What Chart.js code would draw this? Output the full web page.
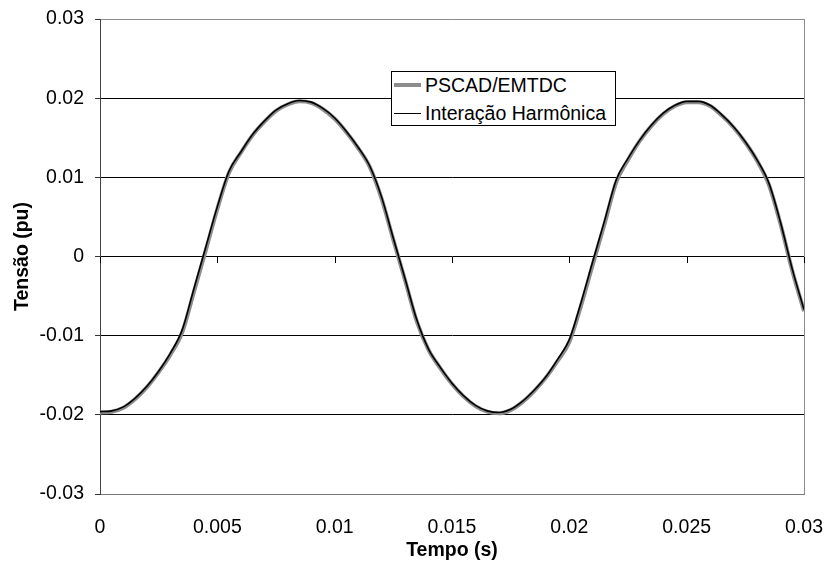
<!DOCTYPE html>
<html>
<head>
    <title>Tensão (pu)</title>
    <script src="https://cdn.jsdelivr.net/npm/chart.js@4.4.5/dist/chart.umd.min.js"></script>
    <style>
        body { margin: 0; background: #fff; }
        #wrap { position: relative; width: 827px; height: 567px; }
        #legend {
            position: absolute; left: 391px; top: 71px; width: 223px; height: 53px;
            border: 1px solid #000; background: #fff;
            font-family: "Liberation Sans", Arial, sans-serif; font-size: 19.5px; color: #000;
        }
        .row { position: absolute; left: 0; height: 26px; line-height: 26px; white-space: nowrap; }
        .row span.sw { position: absolute; left: 2px; width: 27px; }
        .row span.tx { position: absolute; left: 33px; }
    </style>
</head>
<body>
<div id="wrap">
    <canvas id="waveChart" width="827" height="567"></canvas>
    <div id="legend">
        <div class="row" style="top:0px"><span class="sw" style="top:11px;height:4px;background:#8c8c8c"></span><span class="tx">PSCAD/EMTDC</span></div>
        <div class="row" style="top:28px"><span class="sw" style="top:13px;height:1px;background:#000"></span><span class="tx">Interação Harmônica</span></div>
    </div>
</div>

<script>
    // tempo (s)
    const tempo = [
        0, 0.0005, 0.001, 0.0015, 0.002, 0.0025, 0.003, 0.0035, 0.004, 0.0045,
        0.005, 0.0055, 0.006, 0.0065, 0.007, 0.0075, 0.008, 0.0085, 0.009, 0.0095,
        0.01, 0.0105, 0.011, 0.0115, 0.012, 0.0125, 0.013, 0.0135, 0.014, 0.0145,
        0.015, 0.0155, 0.016, 0.0165, 0.017, 0.0175, 0.018, 0.0185, 0.019, 0.0195,
        0.02, 0.0205, 0.021, 0.0215, 0.022, 0.0225, 0.023, 0.0235, 0.024, 0.0245,
        0.025, 0.0255, 0.026, 0.0265, 0.027, 0.0275, 0.028, 0.0285, 0.029, 0.0295,
        0.03
    ];

    // Interação Harmônica (pu)
    const interacao = [
        -0.0196, -0.0195, -0.0190, -0.0179, -0.0164, -0.0145, -0.0122, -0.0093, -0.0041, 0.0011,
        0.0063, 0.0108, 0.0132, 0.0154, 0.0171, 0.0185, 0.0193, 0.0197, 0.0195, 0.0187,
        0.0175, 0.0158, 0.0138, 0.0114, 0.0075, 0.0023, -0.0028, -0.0080, -0.0117, -0.0140,
        -0.0160, -0.0176, -0.0188, -0.0195, -0.0197, -0.0193, -0.0183, -0.0169, -0.0152, -0.0130,
        -0.0105, -0.0058, -0.0006, 0.0045, 0.0097, 0.0124, 0.0147, 0.0166, 0.0181, 0.0191,
        0.0196, 0.0196, 0.0191, 0.0179, 0.0164, 0.0145, 0.0122, 0.0093, 0.0043, -0.0016,
        -0.0067
    ];

    // PSCAD/EMTDC (pu)
    const pscad = [
        -0.0197, -0.0196, -0.0191, -0.0180, -0.0165, -0.0146, -0.0124, -0.0096, -0.0045, 0.0007,
        0.0060, 0.0106, 0.0131, 0.0153, 0.0170, 0.0184, 0.0192, 0.0196, 0.0194, 0.0186,
        0.0174, 0.0157, 0.0137, 0.0113, 0.0073, 0.0021, -0.0030, -0.0082, -0.0118, -0.0141,
        -0.0161, -0.0177, -0.0189, -0.0196, -0.0198, -0.0194, -0.0184, -0.0170, -0.0153, -0.0132,
        -0.0108, -0.0062, -0.0010, 0.0041, 0.0094, 0.0122, 0.0146, 0.0165, 0.0180, 0.0190,
        0.0195, 0.0195, 0.0190, 0.0178, 0.0163, 0.0144, 0.0121, 0.0091, 0.0041, -0.0018,
        -0.0069
    ];

    const xTicks = [0, 0.005, 0.01, 0.015, 0.02, 0.025, 0.03];
    const yTicks = [-0.03, -0.02, -0.01, 0, 0.01, 0.02, 0.03];

    const FONT = '"Liberation Sans", Arial, sans-serif';

    function fmt(v) {
        return String(Number(v.toFixed(4)));
    }

    // small tick marks on the zero line and the grey frame on the right
    const framePlugin = {
        id: 'frame',
        beforeDatasetsDraw(chart) {
            const { ctx, chartArea, scales } = chart;
            ctx.save();
            ctx.strokeStyle = '#8a8a8a';
            ctx.lineWidth = 1;
            ctx.beginPath();
            ctx.moveTo(Math.round(chartArea.right) + 0.5, chartArea.top);
            ctx.lineTo(Math.round(chartArea.right) + 0.5, chartArea.bottom);
            ctx.stroke();

            const y0 = Math.round(scales.y.getPixelForValue(0));
            ctx.strokeStyle = '#000';
            ctx.beginPath();
            xTicks.forEach(v => {
                const x = Math.round(scales.x.getPixelForValue(v)) + 0.5;
                ctx.moveTo(x, y0);
                ctx.lineTo(x, y0 + 6);
            });
            ctx.stroke();
            ctx.restore();
        }
    };

    new Chart(document.getElementById('waveChart'), {
        type: 'line',
        data: {
            datasets: [
                {
                    label: 'Interação Harmônica',
                    data: tempo.map((t, i) => ({ x: t, y: interacao[i] })),
                    borderColor: '#000',
                    borderWidth: 1.6,
                    pointRadius: 0,
                    cubicInterpolationMode: 'monotone',
                    order: 1
                },
                {
                    label: 'PSCAD/EMTDC',
                    data: tempo.map((t, i) => ({ x: t, y: pscad[i] })),
                    borderColor: '#8c8c8c',
                    borderWidth: 4,
                    pointRadius: 0,
                    cubicInterpolationMode: 'monotone',
                    order: 2
                }
            ]
        },
        options: {
            responsive: false,
            animation: false,
            layout: { padding: { left: 0, top: 19, right: 23, bottom: 0 } },
            plugins: {
                legend: { display: false },
                tooltip: { enabled: false }
            },
            scales: {
                x: {
                    type: 'linear',
                    min: 0,
                    max: 0.03,
                    afterBuildTicks: s => { s.ticks = xTicks.map(v => ({ value: v })); },
                    afterFit: s => { s.height = 73; s.paddingLeft = 0; s.paddingRight = 0; },
                    grid: { display: false },
                    border: { display: true, color: '#777' },
                    ticks: {
                        padding: 14,
                        maxRotation: 0,
                        color: '#000',
                        font: { family: FONT, size: 19.5 },
                        callback: v => fmt(v)
                    },
                    title: {
                        display: true,
                        text: 'Tempo (s)',
                        color: '#000',
                        font: { family: FONT, size: 19.5, weight: 'bold' },
                        padding: { top: 0, bottom: 5 }
                    }
                },
                y: {
                    min: -0.03,
                    max: 0.03,
                    afterBuildTicks: s => { s.ticks = yTicks.map(v => ({ value: v })); },
                    afterFit: s => { s.width = 100; s.paddingTop = 0; s.paddingBottom = 0; },
                    grid: {
                        color: c => (Math.abs(c.tick.value) > 0.025 ? '#8a8a8a' : '#000'),
                        tickColor: '#333',
                        tickLength: 5,
                        lineWidth: 1
                    },
                    border: { display: true, color: '#444' },
                    ticks: {
                        padding: 11,
                        color: '#000',
                        font: { family: FONT, size: 19.5 },
                        callback: v => fmt(v)
                    },
                    title: {
                        display: true,
                        text: 'Tensão (pu)',
                        color: '#000',
                        font: { family: FONT, size: 19.5, weight: 'bold' },
                        padding: { top: 11, bottom: 0 }
                    }
                }
            }
        },
        plugins: [framePlugin]
    });
</script>
</body>
</html>
